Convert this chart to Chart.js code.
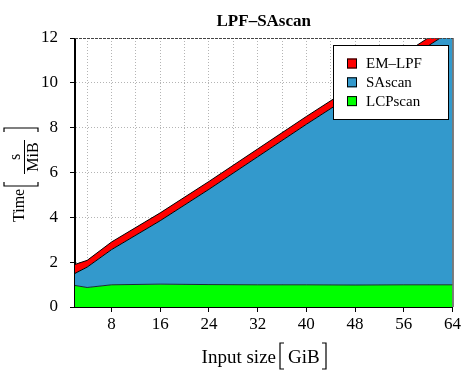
<!DOCTYPE html>
<html>
<head>
<meta charset="utf-8">
<script src="https://cdn.jsdelivr.net/npm/chart.js@4/dist/chart.umd.min.js"></script>
<style>
  html, body { margin: 0; padding: 0; background: #fff; }
  canvas { display: block; }
</style>
</head>
<body>
<canvas id="lpfChart" width="463" height="370"></canvas>
<script>
// input sizes in GiB
const sizes = [2, 4, 8, 16, 24, 32, 40, 48, 56, 64];
// time per MiB, stacked from the bottom
const lcpscan = [0.96, 0.87, 0.99, 1.02, 1.0, 0.99, 0.99, 0.98, 0.99, 0.99];
const sascan  = [0.54, 0.91, 1.57, 2.83, 4.25, 5.71, 7.16, 8.57, 9.96, 11.36];
const emlpf   = [0.40, 0.30, 0.34, 0.35, 0.35, 0.35, 0.35, 0.35, 0.35, 0.35];

const xGrid = [4, 8, 12, 16, 20, 24, 28, 32, 36, 40, 44, 48, 52, 56, 60, 64];
const chartTitle = "LPF\u2013SAscan";
const legendItems = [
    { label: "EM\u2013LPF", color: "#ff0000" },
    { label: "SAscan", color: "#3399cc" },
    { label: "LCPscan", color: "#00ff00" }
];

const serif = '"Liberation Serif", "DejaVu Serif", serif';

const toPoints = vals => vals.map((v, i) => ({ x: sizes[i], y: v }));

// title, axis titles, legend box and the frame
const decorations = {
    id: "decorations",
    afterDraw(chart) {
        const ctx = chart.ctx;
        const a = chart.chartArea;
        ctx.save();
        ctx.fillStyle = "#000";
        ctx.strokeStyle = "#000";

        // top edge (dashed), other edges solid
        ctx.lineWidth = 1;
        ctx.setLineDash([3, 1]);
        ctx.strokeStyle = "#444";
        ctx.beginPath();
        ctx.moveTo(a.left, a.top + 0.5);
        ctx.lineTo(a.right, a.top + 0.5);
        ctx.stroke();
        ctx.setLineDash([]);
        ctx.strokeStyle = "#000";
        ctx.beginPath();
        ctx.moveTo(a.right + 0.5, a.top);
        ctx.lineTo(a.right + 0.5, a.bottom);
        ctx.moveTo(a.left - 0.5, a.top);
        ctx.lineTo(a.left - 0.5, a.bottom + 0.5);
        ctx.lineTo(a.right + 0.5, a.bottom + 0.5);
        ctx.stroke();

        // title
        ctx.font = "bold 17px " + serif;
        ctx.textAlign = "center";
        ctx.textBaseline = "alphabetic";
        ctx.fillText(chartTitle, (a.left + a.right) / 2, 26);

        // x title: Input size [GiB]
        ctx.font = "19px " + serif;
        ctx.textAlign = "right";
        ctx.fillText("Input size", 276, 363);
        ctx.textAlign = "left";
        ctx.fillText("GiB", 288, 363);
        ctx.lineWidth = 1.2;
        ctx.beginPath();
        ctx.moveTo(284, 343); ctx.lineTo(280, 343); ctx.lineTo(280, 369); ctx.lineTo(284, 369);
        ctx.moveTo(322, 343); ctx.lineTo(326, 343); ctx.lineTo(326, 369); ctx.lineTo(322, 369);
        ctx.stroke();

        // y title: Time [s / MiB], rotated
        ctx.save();
        ctx.rotate(-Math.PI / 2);
        ctx.font = "16px " + serif;
        ctx.textAlign = "left";
        ctx.fillText("Time", -222, 24);
        ctx.textAlign = "center";
        ctx.fillText("s", -157, 20);
        ctx.fillText("MiB", -157, 38);
        ctx.restore();
        ctx.lineWidth = 1;
        ctx.beginPath();
        ctx.moveTo(24.5, 140); ctx.lineTo(24.5, 174);
        ctx.stroke();
        ctx.lineWidth = 1.2;
        ctx.beginPath();
        ctx.moveTo(4, 182); ctx.lineTo(4, 186); ctx.lineTo(38, 186); ctx.lineTo(38, 182);
        ctx.moveTo(4, 132); ctx.lineTo(4, 128); ctx.lineTo(38, 128); ctx.lineTo(38, 132);
        ctx.stroke();

        // legend
        ctx.fillStyle = "#fff";
        ctx.fillRect(333, 45, 115, 74);
        ctx.lineWidth = 1;
        ctx.strokeRect(333.5, 45.5, 115, 74);
        ctx.font = "15px " + serif;
        ctx.textAlign = "left";
        ctx.textBaseline = "middle";
        legendItems.forEach((it, i) => {
            const cy = 63.5 + i * 18.8;
            ctx.fillStyle = it.color;
            ctx.fillRect(347, cy - 5, 10, 10);
            ctx.strokeStyle = "#000";
            ctx.strokeRect(347.5, cy - 4.5, 9, 9);
            ctx.fillStyle = "#000";
            ctx.fillText(it.label, 366, cy + 1);
        });
        ctx.restore();
    }
};

new Chart(document.getElementById("lpfChart").getContext("2d"), {
    type: "line",
    data: {
        datasets: [
            {
                label: "LCPscan",
                data: toPoints(lcpscan),
                backgroundColor: "#00ff00",
                borderColor: "#1a2a3a",
                borderWidth: 1,
                fill: "origin"
            },
            {
                label: "SAscan",
                data: toPoints(sascan),
                backgroundColor: "#3399cc",
                borderColor: "#000",
                borderWidth: 1,
                fill: "-1"
            },
            {
                label: "EM\u2013LPF",
                data: toPoints(emlpf),
                backgroundColor: "#ff0000",
                borderColor: "#000",
                borderWidth: 1,
                fill: "-1"
            }
        ]
    },
    options: {
        responsive: false,
        animation: false,
        devicePixelRatio: 1,
        layout: { padding: { top: 38, right: 8, left: 0, bottom: 0 } },
        elements: { point: { radius: 0 }, line: { tension: 0 } },
        plugins: {
            legend: { display: false },
            title: { display: false },
            tooltip: { enabled: false }
        },
        scales: {
            x: {
                type: "linear",
                min: 2,
                max: 64,
                afterBuildTicks: axis => { axis.ticks = xGrid.map(v => ({ value: v })); },
                afterFit: scale => { scale.height = 63; },
                ticks: {
                    color: "#000",
                    font: { family: serif, size: 17 },
                    padding: 2,
                    maxRotation: 0,
                    autoSkip: false,
                    callback: v => (v % 8 === 0 ? v : "")
                },
                grid: {
                    color: ctx => (ctx.tick && ctx.tick.value === 64 ? "rgba(0,0,0,0)" : "#b4b4b4"),
                    tickColor: ctx => (ctx.tick && ctx.tick.value % 8 === 0 ? "#000" : "rgba(0,0,0,0)"),
                    tickLength: 5,
                    tickBorderDash: []
                },
                border: { color: "#000", width: 1, dash: [1, 2] }
            },
            y: {
                stacked: true,
                min: 0,
                max: 12,
                afterFit: scale => { scale.width = 75; },
                ticks: {
                    stepSize: 1,
                    color: "#000",
                    font: { family: serif, size: 17 },
                    padding: 12,
                    callback: v => (v % 2 === 0 ? v : "")
                },
                grid: {
                    color: ctx => (ctx.tick && ctx.tick.value === 12 ? "rgba(0,0,0,0)" : "#b4b4b4"),
                    tickColor: ctx => (ctx.tick && ctx.tick.value % 2 === 0 ? "#000" : "rgba(0,0,0,0)"),
                    tickLength: 5,
                    tickBorderDash: []
                },
                border: { color: "#000", width: 1, dash: [1, 2] }
            }
        }
    },
    plugins: [decorations]
});
</script>
</body>
</html>
